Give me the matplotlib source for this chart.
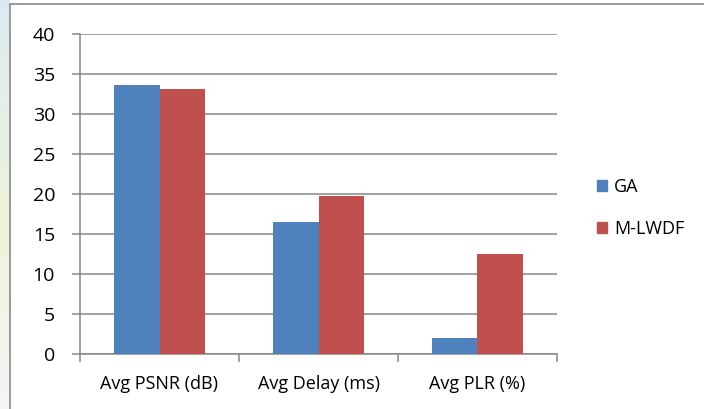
import numpy as np
import matplotlib
matplotlib.use("Agg")
from matplotlib import pyplot as plt
from matplotlib.patches import Rectangle, Patch

plt.rcParams['font.family'] = ['Open Sans', 'DejaVu Sans']

# Average results per metric
categories = ["Avg PSNR (dB)", "Avg Delay (ms)", "Avg PLR (%)"]
ga = [33.6, 16.5, 2.0]
mlwdf = [33.1, 19.7, 12.5]
series_names = ["GA", "M-LWDF"]
yticks = [0, 5, 10, 15, 20, 25, 30, 35, 40]

BLUE = "#4F81BD"
RED = "#C0504D"
GRID = "#888888"
FS = 13

W, H = 704, 409
fig = plt.figure(figsize=(W / 100, H / 100), dpi=100)

# faded page background on the far left, outside the chart box
grad = np.zeros((100, 1, 3))
top = np.array([0.86, 0.92, 0.95])
mid = np.array([0.93, 0.96, 0.85])
bot = np.array([0.96, 0.96, 0.96])
for i in range(100):
    t = i / 99
    if t < 0.55:
        grad[i, 0] = top + (mid - top) * (t / 0.55)
    else:
        grad[i, 0] = mid + (bot - mid) * ((t - 0.55) / 0.45)
bg = fig.add_axes([0, 0, 10 / W, 1])
bg.imshow(grad, aspect="auto", extent=[0, 1, 0, 1])
bg.axis("off")

# chart border
fig.patches.append(Rectangle((10 / W, -0.05), 1.0, 1 - 4 / H + 0.05,
                             transform=fig.transFigure, fill=False,
                             edgecolor="#8a8a8a", linewidth=1.2, zorder=5))

ax = fig.add_axes([80 / W, 1 - 354 / H, (557 - 80) / W, (354 - 34) / H])

x = np.arange(len(categories))
bw = 0.286
ax.bar(x - bw / 2, ga, bw, color=BLUE, zorder=3)
ax.bar(x + bw / 2, mlwdf, bw, color=RED, zorder=3)

ax.set_xlim(-0.5, len(categories) - 0.5)
ax.set_ylim(0, 40)
ax.set_yticks(yticks)
ax.set_yticklabels([str(v) for v in yticks], fontsize=14)
ax.yaxis.grid(True, color=GRID, linewidth=1.1, zorder=0)

# category boundaries get the tick marks, labels sit in the middle
ax.set_xticks(np.arange(len(categories) + 1) - 0.5)
ax.set_xticklabels([])
ax.set_xticks(x, minor=True)
ax.set_xticklabels(categories, minor=True, fontsize=FS)
ax.tick_params(axis="x", which="minor", length=0, pad=15)
ax.tick_params(axis="x", which="major", length=6, color=GRID, width=1.1)
ax.tick_params(axis="y", length=6, color=GRID, width=1.1, pad=12)

for s in ["top", "right"]:
    ax.spines[s].set_visible(False)
for s in ["left", "bottom"]:
    ax.spines[s].set_color(GRID)
    ax.spines[s].set_linewidth(1.1)

handles = [Patch(color=BLUE), Patch(color=RED)]
fig.legend(handles, series_names, loc="center left",
           bbox_to_anchor=(597 / W, 1 - 208 / H), frameon=False,
           fontsize=FS, handlelength=0.55, handleheight=0.55,
           handletextpad=0.4, labelspacing=1.35, borderpad=0, borderaxespad=0)

fig.savefig("out.png", dpi=100)
